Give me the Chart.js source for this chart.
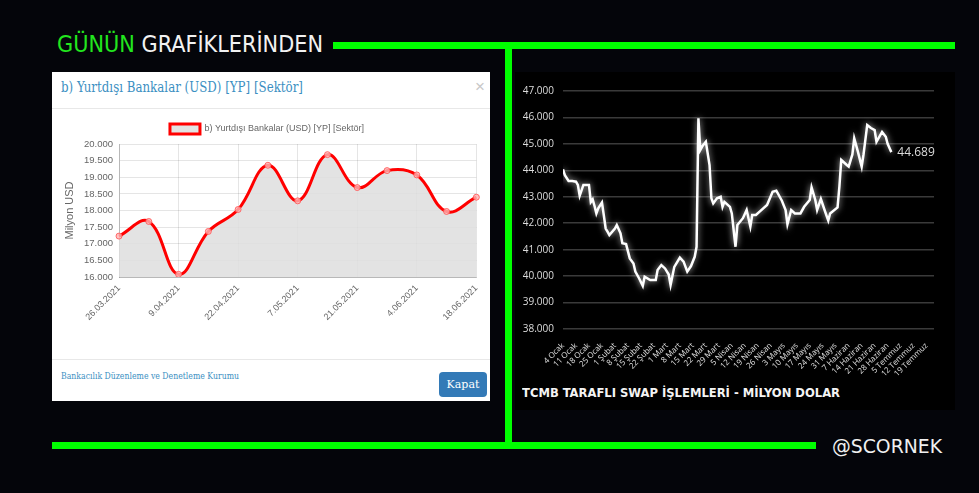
<!DOCTYPE html>
<html>
<head>
<meta charset="utf-8">
<script src="https://cdn.jsdelivr.net/npm/chart.js@4.4.0/dist/chart.umd.min.js"></script>
<style>
html, body { margin: 0; padding: 0; background: #04050a; }
#stage { position: relative; width: 979px; height: 493px; overflow: hidden; background: #04050a; font-family: "DejaVu Sans Condensed", "DejaVu Sans", sans-serif; }
.abs { position: absolute; white-space: nowrap; line-height: 1; }
.green { background: #00ff00; position: absolute; }
.fit { transform-origin: 0 50%; }
#leftPanel { position: absolute; left: 52px; top: 72px; width: 438px; height: 329px; background: #fff; }
#rightPanel { position: absolute; left: 515px; top: 72px; width: 440px; height: 338px; background: #000; }
.serif { font-family: "DejaVu Serif", "Liberation Serif", serif; }
canvas { position: absolute; }
</style>
</head>
<body>
<div id="stage">
  <div class="abs fit" data-w="266" style="left:57px; top:33px; font-size:23px;"><span style="color:#22e61e">GÜNÜN</span> <span style="color:#f2f2f2">GRAFİKLERİNDEN</span></div>
  <div class="green" style="left:333px; top:42px; width:622px; height:7px;"></div>

  <div id="leftPanel">
    <div class="abs serif fit" data-w="242" style="left:9px; top:8px; font-size:15px; color:#3b8fc2;">b) Yurtdışı Bankalar (USD) [YP] [Sektör]</div>
    <div class="abs" style="left:423px; top:6px; font-size:17px; color:#c8c8c8; font-family:'Liberation Sans',sans-serif;">×</div>
    <div style="position:absolute; left:0; top:36px; width:438px; height:1px; background:#e8e8e8;"></div>
    <div style="position:absolute; left:0; top:287px; width:438px; height:1px; background:#e8e8e8;"></div>
    <div class="abs serif fit" data-w="178" style="left:9px; top:299px; font-size:10px; color:#3b8fc2;">Bankacılık Düzenleme ve Denetleme Kurumu</div>
    <div class="abs serif" style="left:387px; top:300px; width:48px; height:25px; line-height:25px; background:#337ab7; border-radius:4px; color:#fff; font-size:11px; text-align:center;">Kapat</div>
  </div>
  <canvas id="bankChart" width="438" height="244" style="left:52px; top:112px;"></canvas>

  <div id="rightPanel">
    <div class="abs fit" data-w="318" style="left:7px; top:314px; font-size:13px; font-weight:bold; color:#f4f4f4;">TCMB TARAFLI SWAP İŞLEMLERİ - MİLYON DOLAR</div>
  </div>
  <canvas id="swapChart" width="440" height="305" style="left:515px; top:72px;"></canvas>

  <div class="green" style="left:505px; top:45px; width:7px; height:398px;"></div>
  <div class="green" style="left:52px; top:442px; width:764px; height:7px;"></div>
  <div class="abs fit" data-w="110" style="left:832px; top:437px; font-size:19px; color:#f0f0f0;">@SCORNEK</div>
</div>

<script>
// sol grafik: BDDK, yurtdışı bankalar (milyon USD)
const bankLabels = ['26.03.2021', '2.04.2021', '9.04.2021', '16.04.2021', '22.04.2021', '30.04.2021', '7.05.2021',
  '14.05.2021', '21.05.2021', '28.05.2021', '4.06.2021', '11.06.2021', '18.06.2021']
const bankValues = [17230, 17670, 16080, 17370, 18030, 19360, 18290, 19680, 18690, 19200, 19070, 17970, 18400]
const bankLegend = 'b) Yurtdışı Bankalar (USD) [YP] [Sektör]'

// sag grafik: TCMB swap, gun (4 Ocak'tan itibaren) ve deger
const swapWeekLabels = ['4 Ocak', '11 Ocak', '18 Ocak', '25 Ocak', '1 Şubat', '8 Şubat', '15 Şubat', '22 Şubat',
  '1 Mart', '8 Mart', '15 Mart', '22 Mart', '29 Mart', '5 Nisan', '12 Nisan', '19 Nisan', '26 Nisan',
  '3 Mayıs', '10 Mayıs', '17 Mayıs', '24 Mayıs', '31 Mayıs', '7 Haziran', '14 Haziran', '21 Haziran',
  '28 Haziran', '5 Temmuz', '12 Temmuz', '19 Temmuz']
const swapDays = [0, 1, 3, 5, 7, 8, 9, 11, 14, 15, 16, 17, 18, 19, 21, 22, 23, 24, 25, 28, 29, 31, 32, 34, 36, 38, 39,
  41, 43, 44, 47, 50, 51, 53, 55, 57, 58, 60, 63, 65, 67, 69, 71, 72, 73, 74, 75, 77, 79, 80, 81, 83, 85, 86, 87,
  90, 91, 93, 94, 97, 99, 101, 102, 104, 106, 110, 113, 115, 118, 120, 121, 123, 125, 128, 130, 133, 134, 136,
  137, 139, 141, 143, 144, 148, 149, 150, 153, 154, 156, 157, 159, 161, 162, 164, 166, 168, 169, 172, 174, 175, 177]
const swapValues = [44040, 43820, 43600, 43600, 43570, 43450, 43040, 43450, 43450, 42800, 42900, 42650, 42370, 42560,
  42780, 42300, 41800, 41680, 41550, 41800, 41930, 41620, 41240, 41210, 40670, 40480, 40170, 39920, 39630, 39980,
  39850, 39850, 40230, 40420, 40290, 40060, 39660, 40350, 40700, 40550, 40170, 40380, 40730, 41110, 45970, 44770,
  44900, 45080, 44200, 42940, 42750, 42940, 43000, 42620, 42810, 42620, 42370, 41110, 41930, 42190, 42500, 41870,
  42310, 42310, 42440, 42690, 43190, 43230, 42850, 42500, 41960, 42500, 42370, 42370, 42620, 42880, 43360, 42880,
  42500, 42920, 42500, 42100, 42370, 42600, 43380, 44390, 44200, 44140, 44600, 45210, 44700, 44140, 44600, 45710,
  45600, 45520, 45080, 45450, 45270, 45000, 44689]

const fmt = v => String(v).replace(/\B(?=(\d{3})+(?!\d))/g, '.')

// metinleri hedef genislige sigdir
document.querySelectorAll('.fit').forEach(el => {
  const w = el.getBoundingClientRect().width
  el.style.transform = 'scaleX(' + (el.dataset.w / w) + ')'
})

const gray = '#666'
const arial = 'Liberation Sans, Arial, sans-serif'

new Chart(document.getElementById('bankChart'), {
  type: 'line',
  data: {
    labels: bankLabels,
    datasets: [{
      label: bankLegend,
      data: bankValues,
      borderColor: '#ff0000',
      backgroundColor: 'rgba(222,222,222,0.85)',
      borderWidth: 3,
      fill: true,
      tension: 0.4,
      pointRadius: 3,
      pointBackgroundColor: 'rgba(255,180,180,0.8)',
      pointBorderColor: 'rgba(255,80,80,0.8)',
      pointBorderWidth: 1,
    }],
  },
  options: {
    responsive: false,
    animation: false,
    layout: { padding: { top: 5, right: 8, left: 0, bottom: 0 } },
    plugins: {
      legend: { labels: { boxWidth: 30, boxHeight: 10, padding: 7, color: gray, font: { size: 9, family: arial } } },
      tooltip: { enabled: false },
    },
    scales: {
      x: {
        grid: { color: 'rgba(0,0,0,0.1)', drawTicks: false },
        border: { color: 'rgba(0,0,0,0.2)' },
        ticks: { autoSkip: true, maxTicksLimit: 7, minRotation: 45, maxRotation: 45, padding: 6, color: gray, font: { size: 9, family: arial } },
        afterFit(s) { s.height = 79 },
      },
      y: {
        min: 16000,
        max: 20000,
        grid: { color: 'rgba(0,0,0,0.1)', drawTicks: false },
        border: { color: 'rgba(0,0,0,0.2)' },
        ticks: { stepSize: 500, callback: v => fmt(v), padding: 6, color: gray, font: { size: 9.5, family: arial } },
        title: { display: true, text: 'Milyon USD', color: gray, font: { size: 11, family: arial }, padding: { top: 11, bottom: 0 } },
        afterFit(s) { s.width = 67 },
      },
    },
  },
})

const glowAndLabel = {
  id: 'glowAndLabel',
  beforeDatasetsDraw(chart) {
    chart.ctx.save()
    chart.ctx.shadowColor = 'rgba(255,255,255,0.75)'
    chart.ctx.shadowBlur = 6
  },
  afterDatasetsDraw(chart) {
    const ctx = chart.ctx
    ctx.restore()
    const meta = chart.getDatasetMeta(0)
    const last = meta.data[meta.data.length - 1]
    ctx.save()
    ctx.fillStyle = '#dcdcdc'
    ctx.font = '12px "Open Sans", sans-serif'
    ctx.textBaseline = 'middle'
    ctx.fillText(fmt(swapValues[swapValues.length - 1]), last.x + 6, last.y)
    ctx.restore()
  },
}

new Chart(document.getElementById('swapChart'), {
  type: 'line',
  data: {
    datasets: [{
      data: swapDays.map((d, i) => ({ x: d, y: swapValues[i] })),
      borderColor: '#ffffff',
      borderWidth: 2.5,
      pointRadius: 0,
      tension: 0,
      fill: false,
    }],
  },
  options: {
    responsive: false,
    animation: false,
    layout: { padding: { top: 19, right: 21, left: 0, bottom: 0 } },
    plugins: { legend: { display: false }, tooltip: { enabled: false } },
    scales: {
      x: {
        type: 'linear',
        min: 0,
        max: 200,
        afterBuildTicks(s) { s.ticks = swapWeekLabels.map((l, i) => ({ value: i * 7 })) },
        ticks: { autoSkip: false, minRotation: 45, maxRotation: 45, padding: 4, color: '#e0e0e0', font: { size: 8, family: 'Open Sans, sans-serif' }, callback: v => swapWeekLabels[Math.round(v / 7)] },
        grid: { display: false },
        border: { display: false },
        afterFit(s) { s.height = 48 },
      },
      y: {
        min: 38000,
        max: 47000,
        ticks: { stepSize: 1000, callback: v => fmt(v), padding: 9, color: '#dcdcdc', font: { size: 10, family: 'Open Sans, sans-serif' } },
        grid: { color: '#3a3a3a', lineWidth: 1.5, drawTicks: false },
        border: { display: false },
        afterFit(s) { s.width = 48 },
      },
    },
  },
  plugins: [glowAndLabel],
})
</script>
</body>
</html>
